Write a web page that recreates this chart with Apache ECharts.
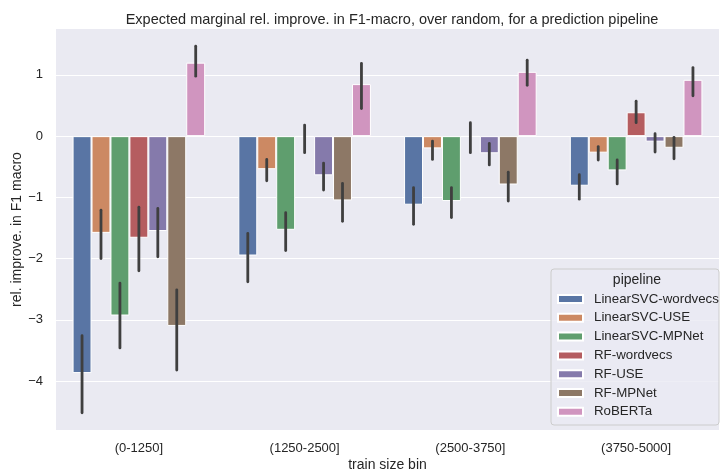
<!DOCTYPE html>
<html>
<head>
<meta charset="utf-8">
<script src="https://cdn.jsdelivr.net/npm/echarts@6/dist/echarts.min.js"></script>
<style>
html,body{margin:0;padding:0;background:#fff;}
#chart{width:720px;height:470px;}
</style>
</head>
<body>
<div id="chart"></div>
<script>
const categories = ['(0-1250]', '(1250-2500]', '(2500-3750]', '(3750-5000]'];
const pipelines = ['LinearSVC-wordvecs', 'LinearSVC-USE', 'LinearSVC-MPNet', 'RF-wordvecs', 'RF-USE', 'RF-MPNet', 'RoBERTa'];
const yTicks = [-4, -3, -2, -1, 0, 1];

// mean values per pipeline (one per train size bin)
const lsvcWordvecs = [-3.87, -1.95, -1.12, -0.81];
const lsvcUSE      = [-1.58, -0.54, -0.20, -0.27];
const lsvcMPNet    = [-2.93, -1.53, -1.06, -0.56];
const rfWordvecs   = [-1.66, -0.01, -0.01, 0.39];
const rfUSE        = [-1.55, -0.64, -0.28, -0.09];
const rfMPNet      = [-3.10, -1.05, -0.79, -0.19];
const roberta      = [1.20, 0.85, 1.05, 0.92];

// confidence interval lower / upper bounds
const lsvcWordvecsLow = [-4.52, -2.38, -1.44, -1.03];
const lsvcWordvecsHigh = [-3.26, -1.59, -0.84, -0.63];
const lsvcUSELow = [-2.00, -0.73, -0.38, -0.39];
const lsvcUSEHigh = [-1.21, -0.38, -0.08, -0.17];
const lsvcMPNetLow = [-3.46, -1.87, -1.33, -0.78];
const lsvcMPNetHigh = [-2.40, -1.25, -0.84, -0.39];
const rfWordvecsLow = [-2.20, -0.27, -0.27, 0.22];
const rfWordvecsHigh = [-1.16, 0.18, 0.22, 0.57];
const rfUSELow = [-1.97, -0.88, -0.47, -0.26];
const rfUSEHigh = [-1.18, -0.44, -0.12, 0.04];
const rfMPNetLow = [-3.82, -1.39, -1.06, -0.37];
const rfMPNetHigh = [-2.51, -0.77, -0.59, -0.02];
const robertaLow = [0.98, 0.45, 0.83, 0.66];
const robertaHigh = [1.47, 1.19, 1.24, 1.12];

const colors = ['#5975a4', '#cc8963', '#5f9e6e', '#b55d60', '#857aab', '#8d7866', '#d095bf'];

const means = [lsvcWordvecs, lsvcUSE, lsvcMPNet, rfWordvecs, rfUSE, rfMPNet, roberta];
const lows = [lsvcWordvecsLow, lsvcUSELow, lsvcMPNetLow, rfWordvecsLow, rfUSELow, rfMPNetLow, robertaLow];
const highs = [lsvcWordvecsHigh, lsvcUSEHigh, lsvcMPNetHigh, rfWordvecsHigh, rfUSEHigh, rfMPNetHigh, robertaHigh];

const FONT = '"Liberation Sans", Arial, sans-serif';
const TXT = '#262626';

const barSeries = pipelines.map((name, i) => ({
  name: name,
  type: 'bar',
  data: means[i],
  barGap: '0%',
  barCategoryGap: '20%',
  z: 3,
  itemStyle: { color: colors[i], borderColor: '#ffffff', borderWidth: 1 },
  emphasis: { disabled: true }
}));

const errData = [];
pipelines.forEach((name, i) => {
  categories.forEach((c, j) => {
    errData.push([j, i, lows[i][j], highs[i][j]]);
  });
});

const errSeries = {
  name: 'ci',
  type: 'custom',
  z: 6,
  data: errData,
  encode: { x: 0, y: [2, 3] },
  renderItem: function (params, api) {
    const c = api.value(0);
    const k = api.value(1);
    const lo = api.coord([c, api.value(2)]);
    const hi = api.coord([c, api.value(3)]);
    const bandW = api.size([1, 0])[0];
    const w = bandW * 0.8 / pipelines.length;
    const off = w * (k - (pipelines.length - 1) / 2);
    return {
      type: 'line',
      shape: { x1: lo[0] + off, y1: lo[1], x2: hi[0] + off, y2: hi[1] },
      style: { stroke: '#3f3f3f', lineWidth: 2.8, lineCap: 'round' }
    };
  }
};

const chart = echarts.init(document.getElementById('chart'));
chart.setOption({
  animation: false,
  backgroundColor: '#ffffff',
  textStyle: { fontFamily: FONT },
  title: {
    text: 'Expected marginal rel. improve. in F1-macro, over random, for a prediction pipeline',
    left: 387, top: 7, textAlign: 'center',
    textStyle: { fontFamily: FONT, fontSize: 14.5, fontWeight: 'normal', color: TXT }
  },
  grid: { left: 56, right: 1, top: 29, bottom: 40, backgroundColor: '#eaeaf2', show: true, borderWidth: 0, outerBoundsMode: 'none', containLabel: false },
  xAxis: {
    type: 'category',
    data: categories,
    name: 'train size bin',
    nameLocation: 'middle',
    nameGap: 28,
    nameMoveOverlap: false,
    nameTextStyle: { fontFamily: FONT, fontSize: 14, color: TXT },
    axisLine: { show: false },
    axisTick: { show: false },
    axisLabel: { fontFamily: FONT, fontSize: 13, color: TXT, margin: 12 },
    splitLine: { show: false }
  },
  yAxis: {
    type: 'value',
    min: -4.8,
    max: 1.75,
    name: 'rel. improve. in F1 macro',
    nameLocation: 'middle',
    nameGap: 32,
    nameMoveOverlap: false,
    nameTextStyle: { fontFamily: FONT, fontSize: 14, color: TXT },
    axisLine: { show: false },
    axisTick: { show: false, customValues: yTicks },
    axisLabel: {
      customValues: yTicks,
      fontFamily: FONT, fontSize: 13, color: TXT, margin: 13,
      formatter: v => String(v).replace('-', '\u2212')
    },
    splitLine: { show: false }
  },
  legend: {
    data: pipelines,
    orient: 'vertical',
    left: 552,
    top: 287,
    itemWidth: 25,
    itemHeight: 8,
    itemGap: 4.8,
    icon: 'rect',
    z: 20,
    textStyle: { fontFamily: FONT, fontSize: 13.3, color: TXT, lineHeight: 14, padding: [0, 0, 0, 6] },
    selectedMode: false
  },
  graphic: [
    {
      type: 'rect', z: 15,
      shape: { x: 551, y: 269, width: 168, height: 156, r: 3 },
      style: { fill: 'rgba(234,234,242,0.8)', stroke: '#cccccc', lineWidth: 1 }
    },
    {
      type: 'text', z: 16,
      style: { x: 637, y: 280, text: 'pipeline', align: 'center', verticalAlign: 'middle', font: '14px ' + FONT, fill: TXT }
    }
  ],
  series: [
    {
      name: 'grid',
      type: 'line',
      data: [],
      z: 1,
      silent: true,
      markLine: {
        z: 1,
        silent: true,
        symbol: 'none',
        label: { show: false },
        lineStyle: { color: '#ffffff', width: 1.2, type: 'solid' },
        emphasis: { disabled: true },
        data: yTicks.map(v => ({ yAxis: v }))
      }
    }
  ].concat(barSeries).concat([errSeries])
});
</script>
</body>
</html>
